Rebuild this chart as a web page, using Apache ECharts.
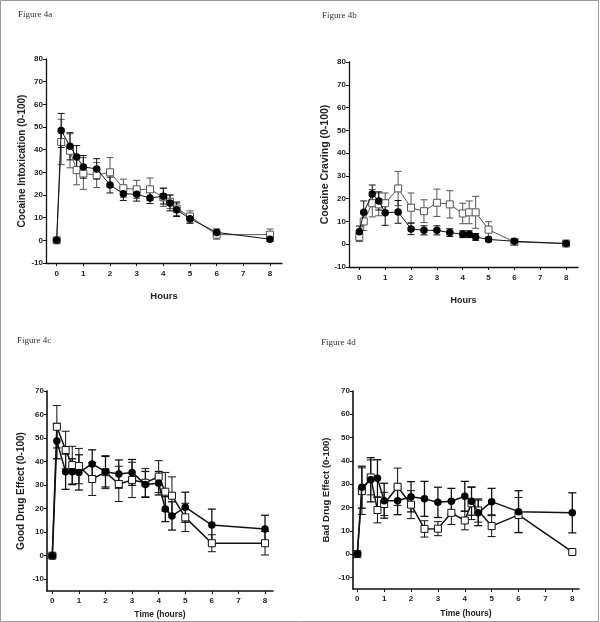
<!DOCTYPE html>
<html>
<head>
<meta charset="utf-8">
<script src="https://cdn.jsdelivr.net/npm/echarts@6/dist/echarts.min.js"></script>
<style>
  html, body { margin: 0; padding: 0; background: #fff; }
  #main { width: 600px; height: 622px; }
</style>
</head>
<body>
<div id="main"></div>
<script>
// sampling times (hours)
const hours = [0, 0.17, 0.5, 0.75, 1, 1.5, 2, 2.5, 3, 3.5, 4, 4.25, 4.5, 5, 6, 8];
const xTicks = [0, 1, 2, 3, 4, 5, 6, 7, 8];
const yTicksAB = [-10, 0, 10, 20, 30, 40, 50, 60, 70, 80];
const yTicksCD = [-10, 0, 10, 20, 30, 40, 50, 60, 70];

// Figure 4a - cocaine intoxication
const intoxFilled = [0, 48.5, 41.5, 36.8, 32.4, 31.5, 24.4, 20.6, 20.3, 18.7, 19.5, 16.5, 13.5, 9.5, 3.5, 0.5];
const intoxFilledErr = [0.5, 7.5, 6, 5, 5, 4.5, 3.5, 3, 3, 2.5, 3.5, 3.5, 3, 2, 1.5, 1];
const intoxOpen = [0, 43.4, 39.5, 31, 29.5, 28.8, 30, 23, 22.5, 22.5, 19, 17, 14, 10.5, 2.5, 2.5];
const intoxOpenErr = [1, 10, 7.5, 6.5, 7, 5.5, 6.5, 4, 4, 5, 4, 3, 3, 2.5, 2, 2.5];

// Figure 4b - cocaine craving
const cravFilled = [5.5, 14, 22, 19, 13.8, 14.2, 6.7, 6.1, 6.1, 5.1, 4.4, 4.4, 3.2, 2.1, 1.3, 0.3];
const cravFilledErr = [2.5, 5, 4, 4, 5.5, 5, 2.5, 2, 2, 1.7, 1.5, 1.5, 1.5, 1, 1, 0.5];
const cravOpen = [3.2, 10, 18, 17.5, 18, 24.5, 16, 14.5, 18.2, 17.5, 13.5, 14, 14, 6.4, 1, 0.3];
const cravOpenErr = [2, 4, 6, 5, 4.5, 7.5, 6.5, 5, 6, 6, 4.5, 5, 7, 3.5, 1, 0.5];

// Figure 4c - good drug effect
const goodFilled = [0, 48.7, 35.7, 35.7, 35.4, 39, 35.7, 34.7, 35.4, 30.3, 30.8, 19.8, 16.9, 20.6, 13, 11.3];
const goodFilledErr = [0.5, 7.5, 7.5, 5.5, 7.5, 6, 6.5, 6, 5.5, 5.5, 5, 5.3, 6, 6.4, 6.8, 5.9];
const goodOpen = [0, 54.8, 44.9, 38.5, 38.1, 32.6, 35.5, 30.5, 32.2, 31, 33.6, 27.2, 25.5, 16.3, 5.3, 5.3];
const goodOpenErr = [0.5, 9, 8, 8, 7.5, 7, 7, 7.5, 7.5, 6, 6.8, 8.2, 8, 6, 3.6, 5];

// Figure 4d - bad drug effect
const badFilled = [0, 28.7, 31.9, 32.5, 22.9, 22.9, 24.6, 23.7, 22.2, 22.7, 24.8, 22.7, 17.7, 22.5, 18.2, 17.7];
const badFilledErr = [0.5, 9, 9.5, 8, 7.5, 6, 6.5, 7.5, 6.5, 5.5, 6.4, 6, 5.5, 5.7, 9, 8.6];
const badOpen = [0, 27, 32.9, 18.9, 21.5, 28.9, 21.2, 10.8, 10.9, 17.7, 14.4, 21.8, 18.7, 12, 16.8, 0.9];
const badOpenErr = [0.5, 10, 7.5, 5.5, 5, 8, 6, 3.5, 3, 5, 4, 7, 5, 4.5, 7.5, 0.5];

const panels = [
  { title: 'Figure 4a', tx: 13, ty: 5, grid: { left: 46, top: 59, width: 236, height: 204 },
    xMin: -0.4, xMax: 8.45, yMin: -10, yMax: 80, yTicks: yTicksAB,
    yName: 'Cocaine Intoxication (0-100)', yGap: 17, yNameSize: 10, xName: 'Hours', xGap: 28, xNameSize: 9.5, xMargin: 7,
    filled: intoxFilled, filledErr: intoxFilledErr, open: intoxOpen, openErr: intoxOpenErr, thin: true },
  { title: 'Figure 4b', tx: 317, ty: 6, grid: { left: 349, top: 62, width: 229, height: 205 },
    xMin: -0.4, xMax: 8.46, yMin: -10, yMax: 80, yTicks: yTicksAB,
    yName: 'Cocaine Craving (0-100)', yGap: 15, yNameSize: 10.5, xName: 'Hours', xGap: 29, xNameSize: 9, xMargin: 7,
    filled: cravFilled, filledErr: cravFilledErr, open: cravOpen, openErr: cravOpenErr, thin: true },
  { title: 'Figure 4c', tx: 12, ty: 331, grid: { left: 47, top: 391, width: 226, height: 200 },
    xMin: -0.2, xMax: 8.3, yMin: -15, yMax: 70, yTicks: yTicksCD,
    yName: 'Good Drug Effect (0-100)', yGap: 21, yNameSize: 10, xName: 'Time (hours)', xGap: 19, xNameSize: 8.5, xMargin: 6,
    filled: goodFilled, filledErr: goodFilledErr, open: goodOpen, openErr: goodOpenErr, thin: false },
  { title: 'Figure 4d', tx: 316, ty: 333, grid: { left: 353, top: 391, width: 226, height: 198 },
    xMin: -0.16, xMax: 8.25, yMin: -15, yMax: 70, yTicks: yTicksCD,
    yName: 'Bad Drug Effect (0-100)', yGap: 22, yNameSize: 9.5, xName: 'Time (hours)', xGap: 20, xNameSize: 8.5, xMargin: 6,
    filled: badFilled, filledErr: badFilledErr, open: badOpen, openErr: badOpenErr, thin: false }
];

const font = '"Liberation Sans", Arial, sans-serif';

function errorBars(idx, vals, errs, color, lw, cap) {
  return {
    type: 'custom',
    xAxisIndex: idx, yAxisIndex: idx,
    silent: true,
    data: hours.map((t, k) => [t, vals[k] - errs[k], vals[k] + errs[k]]),
    encode: { x: 0, y: [1, 2] },
    z: 1,
    renderItem: function (params, api) {
      const x = api.value(0);
      const top = api.coord([x, api.value(2)]);
      const bot = api.coord([x, api.value(1)]);
      const h = cap / 2;
      const st = { stroke: color, lineWidth: lw };
      return {
        type: 'group',
        children: [
          { type: 'line', shape: { x1: top[0], y1: top[1], x2: bot[0], y2: bot[1] }, style: st },
          { type: 'line', shape: { x1: top[0] - h, y1: top[1], x2: top[0] + h, y2: top[1] }, style: st },
          { type: 'line', shape: { x1: bot[0] - h, y1: bot[1], x2: bot[0] + h, y2: bot[1] }, style: st }
        ]
      };
    }
  };
}

const grids = [], xAxes = [], yAxes = [], series = [], titles = [];
panels.forEach((p, i) => {
  grids.push(p.grid);
  titles.push({
    text: p.title, left: p.tx, top: p.ty,
    textStyle: { fontFamily: '"Liberation Serif", "Times New Roman", serif', fontSize: 9, fontWeight: 'normal', color: '#333' }
  });
  const axisW = p.thin ? 1.3 : 1.6;
  xAxes.push({
    gridIndex: i, type: 'value', min: p.xMin, max: p.xMax,
    axisLine: { onZero: false, lineStyle: { color: '#111', width: axisW } },
    axisTick: { customValues: xTicks, length: 3, lineStyle: { color: '#111', width: 1 } },
    axisLabel: { customValues: xTicks, fontFamily: font, fontWeight: 'bold', fontSize: 8, color: '#222', margin: p.xMargin },
    splitLine: { show: false },
    name: p.xName, nameLocation: 'middle', nameGap: p.xGap,
    nameTextStyle: { fontFamily: font, fontWeight: 'bold', fontSize: p.xNameSize, color: '#222' }
  });
  yAxes.push({
    gridIndex: i, type: 'value', min: p.yMin, max: p.yMax,
    axisLine: { show: true, onZero: false, lineStyle: { color: '#111', width: axisW } },
    axisTick: { show: true, customValues: p.yTicks, length: 3, lineStyle: { color: '#111', width: 1 } },
    axisLabel: { customValues: p.yTicks, fontFamily: font, fontWeight: 'bold', fontSize: 8, color: '#222', margin: 3 },
    splitLine: { show: false },
    name: p.yName, nameLocation: 'middle', nameGap: p.yGap, nameRotate: 90,
    nameTextStyle: { fontFamily: font, fontWeight: 'bold', fontSize: p.yNameSize, color: '#222' }
  });
  const lw = p.thin ? 1 : 1.5;
  const openColor = p.thin ? '#555' : '#111';
  const cap = p.thin ? 7 : 8;
  series.push(errorBars(i, p.open, p.openErr, openColor, 1, cap));
  series.push(errorBars(i, p.filled, p.filledErr, '#111', p.thin ? 1 : 1.3, cap));
  series.push({
    type: 'line', xAxisIndex: i, yAxisIndex: i, z: 3,
    data: hours.map((t, k) => [t, p.open[k]]),
    symbol: 'rect', symbolSize: 7,
    itemStyle: { color: '#fff', borderColor: openColor, borderWidth: 1 },
    lineStyle: { color: openColor, width: lw },
    animation: false
  });
  series.push({
    type: 'line', xAxisIndex: i, yAxisIndex: i, z: 4,
    data: hours.map((t, k) => [t, p.filled[k]]),
    symbol: 'circle', symbolSize: 7.5,
    itemStyle: { color: '#000', borderColor: '#000', borderWidth: 0 },
    lineStyle: { color: '#111', width: lw },
    animation: false
  });
});

const chart = echarts.init(document.getElementById('main'));
chart.setOption({
  backgroundColor: '#fff',
  animation: false,
  title: titles,
  grid: grids,
  xAxis: xAxes,
  yAxis: yAxes,
  series: series,
  graphic: [{
    type: 'rect', silent: true,
    shape: { x: 0.5, y: 0.5, width: 598, height: 621 },
    style: { fill: 'none', stroke: '#999', lineWidth: 1 }
  }]
});
</script>
</body>
</html>
